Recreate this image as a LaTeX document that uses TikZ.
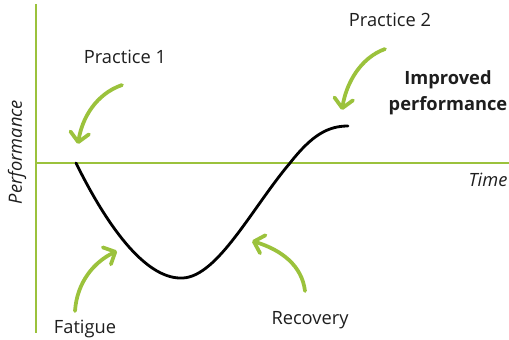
\documentclass[tikz,border=0pt]{standalone}
\usepackage{fontspec}
\setmainfont{Open Sans}
\usepackage{tikz}
\usetikzlibrary{arrows.meta}
\definecolor{leafgreen}{HTML}{9BC23C}
\definecolor{inkgray}{HTML}{1E1E1E}

\begin{document}
\begin{tikzpicture}[
    x=0.03cm, y=-0.03cm,
    axis/.style={draw=leafgreen, line width=2.4pt},
    curve/.style={draw=black, line width=2.4pt, line cap=round},
    cue/.style={
        draw=leafgreen, line width=3.2pt, line cap=round,
        -{Straight Barb[length=8pt, width=16pt, line width=3.2pt, round]}
    },
    lbl/.style={font=\fontsize{15.6}{19}\selectfont, text=inkgray, inner sep=0pt},
    axlbl/.style={font=\fontsize{15.6}{19}\selectfont\itshape, text=inkgray, inner sep=0pt}
]
\useasboundingbox (0,0) rectangle (509,339);

% ===== Axes =====
\coordinate (o) at (36,163);
\coordinate (ytop) at (36,4);
\coordinate (ybot) at (36,333);
\coordinate (xend) at (509,163);
\draw[axis] (ytop) -- (ybot);
\draw[axis] (o) -- (xend);

\node[axlbl, rotate=90] (perf) at (17,152) {Performance};
\node[axlbl] (time) at (488,180) {Time};

% ===== Performance curve =====
\coordinate (c0) at (76,163);
\coordinate (cmin) at (183,278);
\coordinate (cup) at (290,163);
\coordinate (cend) at (348,126);
\draw[curve] (c0) .. controls (110,232) and (148,280) .. (cmin)
    .. controls (218,276) and (252,208) .. (cup)
    .. controls (312,135) and (328,126) .. (cend);

% ===== Labels =====
\node[lbl] (p1) at (125,57) {Practice 1};
\node[lbl] (p2) at (390,20) {Practice 2};
\node[lbl, font=\fontsize{15.6}{22}\selectfont\bfseries, align=center] (imp) at (448,93)
    {Improved\\performance};
\node[lbl] (fat) at (85,329) {Fatigue};
\node[lbl] (rec) at (310,320) {Recovery};

% ===== Green cue arrows =====
\coordinate (a1s) at (122,85);  \coordinate (a1e) at (78,144);
\coordinate (a2s) at (385,49);  \coordinate (a2e) at (342,110);
\coordinate (a3s) at (75,311);  \coordinate (a3e) at (117,251);
\coordinate (a4s) at (305,291); \coordinate (a4e) at (252,241);

\draw[cue] (a1s) .. controls (96,94) and (82,118) .. (a1e);
\draw[cue] (a2s) .. controls (360,58) and (346,84) .. (a2e);
\draw[cue] (a3s) .. controls (77,282) and (94,262) .. (a3e);
\draw[cue] (a4s) .. controls (302,266) and (282,250) .. (a4e);

\end{tikzpicture}
\end{document}
